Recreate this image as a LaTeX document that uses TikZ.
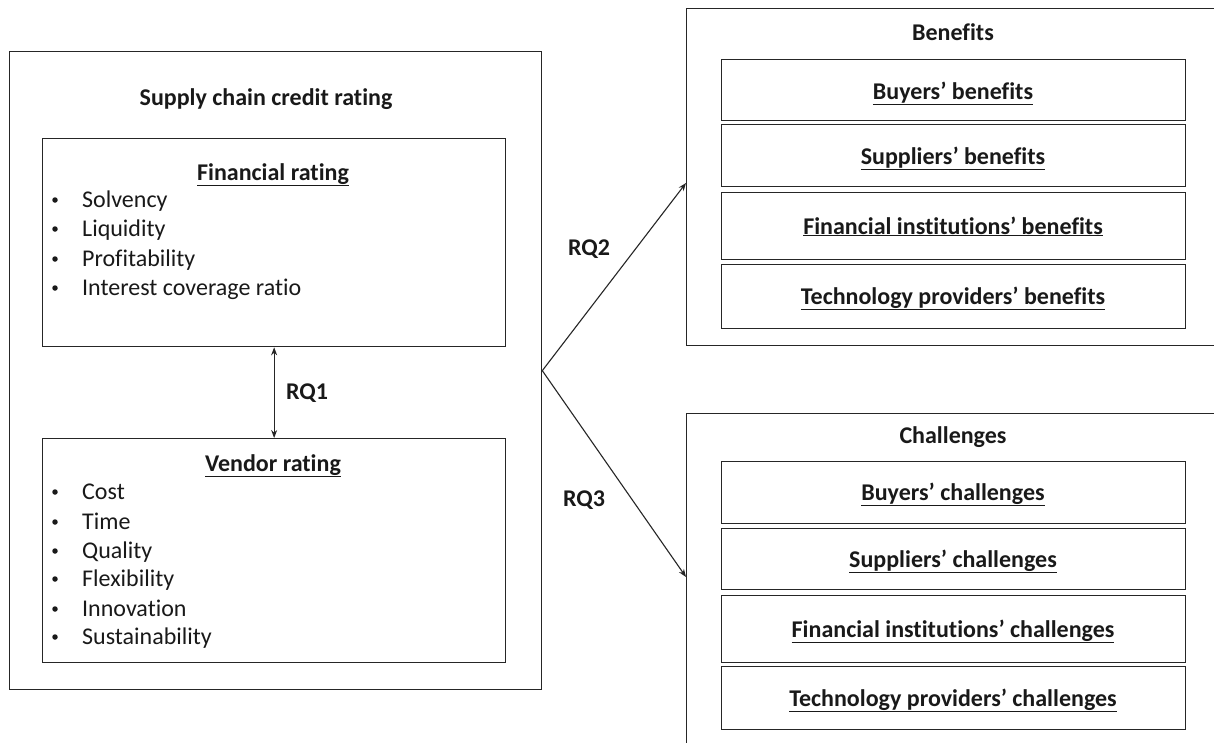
\documentclass[tikz,border=0pt]{standalone}
\usepackage{fontspec}
\setmainfont{Carlito}[RawFeature={-liga;-clig;-calt;-dlig}]
\usetikzlibrary{arrows.meta}
\begin{document}
\begin{tikzpicture}[x=1pt,y=-1pt,
  box/.style={draw=black!85,line width=1.3pt,rectangle,inner sep=0pt,anchor=north west},
  txt/.style={font=\fontsize{24}{28}\selectfont,inner sep=0pt,text=black!90},
  hd/.style={font=\fontsize{24}{28}\selectfont\bfseries,inner sep=0pt,anchor=base,text=black!90},
  item/.style={txt,anchor=base west},
  bul/.style={circle,fill=black!90,inner sep=0pt,minimum size=5.5pt},
  arr/.style={draw=black!85,line width=1.1pt,-{Stealth[length=8pt,width=6pt]}},
  arrb/.style={draw=black!85,line width=1.1pt,{Stealth[length=8pt,width=6pt]}-{Stealth[length=8pt,width=6pt]}},
]
\clip (0,0) rectangle (1214,742);
\fill[white] (0,0) rectangle (1214,742);
% left container
\node[box,minimum width=532pt,minimum height=638pt] (scr) at (9,51) {};
\node[hd] (scrt) at (266,105) {Supply chain credit rating};
% financial rating
\node[box,minimum width=463pt,minimum height=208pt] (fin) at (42,138) {};
\node[hd] (fint) at (273,180) {\underline{Financial rating}};
\node[bul] (fb1) at (55,200) {};
\node[item] (fi1) at (82,207) {Solvency};
\node[bul] (fb2) at (55,229) {};
\node[item] (fi2) at (82,236) {Liquidity};
\node[bul] (fb3) at (55,259) {};
\node[item] (fi3) at (82,266) {Profitability};
\node[bul] (fb4) at (55,288) {};
\node[item] (fi4) at (82,295) {Interest coverage ratio};
% vendor rating
\node[box,minimum width=463pt,minimum height=224pt] (ven) at (42,438) {};
\node[hd] (vent) at (273,471) {\underline{Vendor rating}};
\node[bul] (vb1) at (55,492) {};
\node[item] (vi1) at (82,499) {Cost};
\node[bul] (vb2) at (55,522) {};
\node[item] (vi2) at (82,529) {Time};
\node[bul] (vb3) at (55,551) {};
\node[item] (vi3) at (82,558) {Quality};
\node[bul] (vb4) at (55,579) {};
\node[item] (vi4) at (82,586) {Flexibility};
\node[bul] (vb5) at (55,609) {};
\node[item] (vi5) at (82,616) {Innovation};
\node[bul] (vb6) at (55,637) {};
\node[item] (vi6) at (82,644) {Sustainability};
% RQ1
\draw[arrb] (fin.south) -- (ven.north);
\node[hd] (rq1) at (307,399) {RQ1};
% benefits
\node[box,minimum width=600pt,minimum height=337pt] (ben) at (686,8) {};
\node[hd] (bent) at (953,40) {Benefits};
\node[box,minimum width=464pt,minimum height=61pt] (b1) at (721,59) {};
\node[hd] (b1t) at (953,99) {\underline{Buyers’ benefits}};
\node[box,minimum width=464pt,minimum height=62pt] (b2) at (721,124) {};
\node[hd] (b2t) at (953,164) {\underline{Suppliers’ benefits}};
\node[box,minimum width=464pt,minimum height=67pt] (b3) at (721,192) {};
\node[hd] (b3t) at (953,234) {\underline{Financial institutions’ benefits}};
\node[box,minimum width=464pt,minimum height=64pt] (b4) at (721,264) {};
\node[hd] (b4t) at (953,304) {\underline{Technology providers’ benefits}};
% challenges
\node[box,minimum width=600pt,minimum height=400pt] (cha) at (686,413) {};
\node[hd] (chat) at (953,443) {Challenges};
\node[box,minimum width=464pt,minimum height=62pt] (c1) at (721,461) {};
\node[hd] (c1t) at (953,500) {\underline{Buyers’ challenges}};
\node[box,minimum width=464pt,minimum height=61pt] (c2) at (721,528) {};
\node[hd] (c2t) at (953,567) {\underline{Suppliers’ challenges}};
\node[box,minimum width=464pt,minimum height=67pt] (c3) at (721,595) {};
\node[hd] (c3t) at (953,637) {\underline{Financial institutions’ challenges}};
\node[box,minimum width=464pt,minimum height=63pt] (c4) at (721,666) {};
\node[hd] (c4t) at (953,706) {\underline{Technology providers’ challenges}};
% RQ2 / RQ3
\coordinate (ben-in) at (686,183);
\coordinate (cha-in) at (686,577);
\draw[arr] (scr.east) -- (ben-in);
\draw[arr] (scr.east) -- (cha-in);
\node[hd] (rq2) at (589,255) {RQ2};
\node[hd] (rq3) at (584,506) {RQ3};
\end{tikzpicture}
\end{document}
